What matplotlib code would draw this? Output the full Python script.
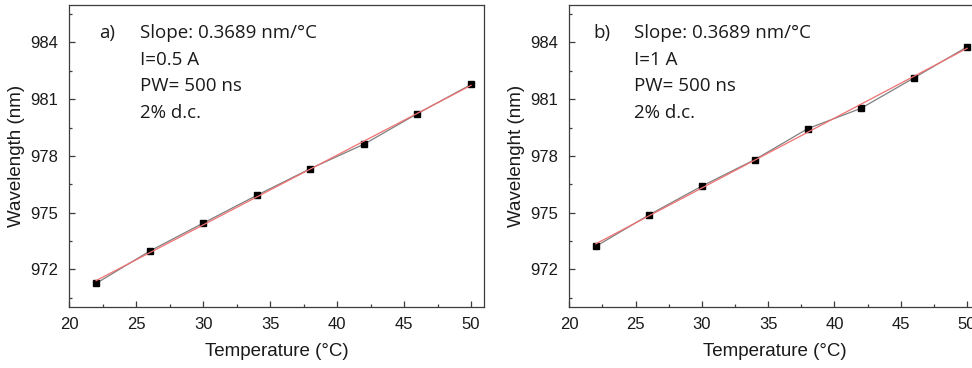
import numpy as np
import matplotlib
matplotlib.use('Agg')
import matplotlib.pyplot as plt
from matplotlib.ticker import MultipleLocator

temps = [22, 26, 30, 34, 38, 42, 46, 50]
wl_a = [971.26, 972.97, 974.45, 975.92, 977.33, 978.62, 980.24, 981.78]
wl_b = [973.22, 974.88, 976.41, 977.81, 979.45, 980.52, 982.13, 983.77]

labels_a = ['Slope: 0.3689 nm/°C', 'I=0.5 A', 'PW= 500 ns', '2% d.c.']
labels_b = ['Slope: 0.3689 nm/°C', 'I=1 A', 'PW= 500 ns', '2% d.c.']

plt.rcParams['font.family'] = ['Liberation Sans', 'DejaVu Sans']
spine_col = '#3c3c3c'


def draw_panel(ax, ys, tag, lines, ylabel, tag_x, text_x):
    x = np.array(temps)
    y = np.array(ys)
    p = np.polyfit(x, y, 1)
    ax.plot(x, y, color='#7f7f7f', lw=0.9, marker='s', ms=5,
            mfc='black', mec='black', zorder=3)
    ax.plot(x, np.polyval(p, x), color='#f07070', lw=0.9, zorder=4)

    ax.set_xlim(20, 51)
    ax.set_ylim(970, 986)
    ax.xaxis.set_major_locator(MultipleLocator(5))
    ax.xaxis.set_minor_locator(MultipleLocator(2.5))
    ax.set_yticks([972, 975, 978, 981, 984])
    ax.yaxis.set_minor_locator(MultipleLocator(1.5))
    ax.tick_params(which='both', direction='in', top=False, right=False,
                   colors=spine_col, labelcolor='#1a1a1a', width=0.9)
    ax.tick_params(which='major', length=4, labelsize=12)
    ax.tick_params(axis='x', which='major', pad=7)
    ax.tick_params(axis='y', which='major', pad=8)
    ax.tick_params(which='minor', length=2.5)
    for s in ax.spines.values():
        s.set_color(spine_col)
        s.set_linewidth(0.9)
    ax.set_xlabel('Temperature (°C)', fontsize=13.5, color='#1a1a1a', labelpad=8)
    ax.set_ylabel(ylabel, fontsize=13.5, color='#1a1a1a', labelpad=4)

    ax.text(tag_x, 0.906, tag, transform=ax.transAxes, va='center',
            ha='left', fontsize=13.5, family='Open Sans', color='#1a1a1a')
    for i, t in enumerate(lines):
        ax.text(text_x, 0.906 - i * 0.088, t, transform=ax.transAxes,
                va='center', ha='left', fontsize=13.5, family='Open Sans',
                color='#1a1a1a')


fig = plt.figure(figsize=(9.72, 3.68), dpi=100)
ax1 = fig.add_axes([0.0713, 0.165, 0.4271, 0.8223])
ax2 = fig.add_axes([0.5857, 0.165, 0.4229, 0.8223])

draw_panel(ax1, wl_a, 'a)', labels_a, 'Wavelength (nm)', 0.072, 0.170)
draw_panel(ax2, wl_b, 'b)', labels_b, 'Wavelenght (nm)', 0.058, 0.157)

fig.savefig('out.png', dpi=100)
